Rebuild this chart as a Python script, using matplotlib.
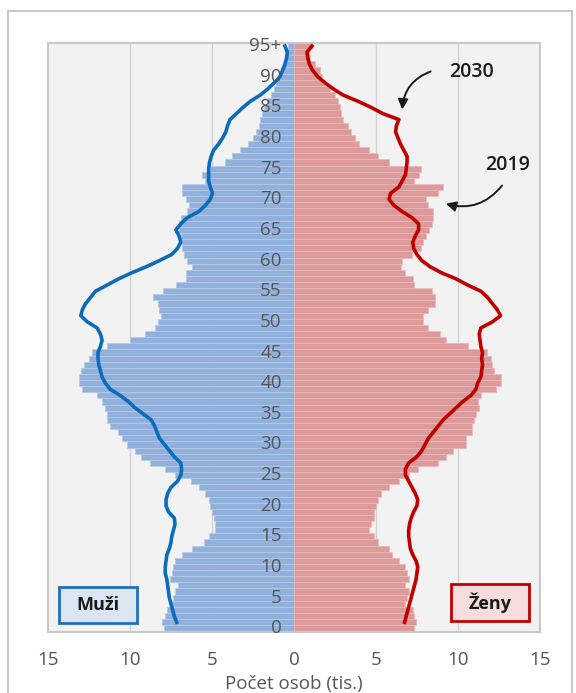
# Věková pyramida 2019 (sloupce) a projekce 2030 (čáry)

import numpy as np
import matplotlib.pyplot as plt
from matplotlib.patches import Rectangle

# data (tis. osob), věk 0 .. 95+
vek = np.arange(0, 96)
muzi_2019 = [7.95, 8.05, 7.85, 7.75, 7.45, 7.35, 7.25, 7.05, 7.55, 7.45,
             7.35, 7.25, 6.8, 6.2, 5.5, 5.2, 4.8, 4.8, 4.9, 5.0,
             5.1, 5.2, 5.4, 5.8, 6.3, 7.25, 7.85, 8.8, 9.3, 9.7,
             10.2, 10.5, 10.7, 11.2, 11.4, 11.4, 11.5, 11.7, 12.0, 12.9,
             13.1, 13.1, 13.0, 12.8, 12.5, 12.3, 11.4, 10.0, 9.1, 8.5,
             8.3, 8.1, 8.2, 8.3, 8.6, 8.0, 7.2, 6.6, 6.6, 6.2,
             6.5, 6.7, 6.8, 6.85, 6.9, 7.0, 7.0, 6.9, 6.5, 6.4,
             6.6, 6.8, 6.8, 5.4, 5.6, 5.1, 4.2, 3.8, 3.3, 2.8,
             2.5, 2.3, 2.1, 2.05, 1.95, 1.8, 1.65, 1.4, 1.2, 1.1,
             0.9, 0.8, 0.65, 0.55, 0.45, 0.38]
zeny_2019 = [7.3, 7.45, 7.35, 7.24, 6.8, 6.9, 7.0, 6.8, 7.0, 6.9,
             6.8, 6.4, 6.0, 5.8, 5.1, 4.9, 4.6, 4.67, 4.9, 4.9,
             5.0, 5.1, 5.3, 5.8, 6.4, 7.0, 7.55, 8.8, 9.3, 9.7,
             10.5, 10.5, 10.85, 10.85, 11.0, 11.1, 11.3, 11.2, 11.4, 12.3,
             12.6, 12.6, 12.2, 12.1, 12.0, 11.8, 10.6, 9.3, 8.9, 8.2,
             7.86, 7.86, 8.2, 8.6, 8.6, 8.4, 7.35, 7.24, 6.8, 6.5,
             6.6, 7.2, 7.75, 7.86, 8.07, 8.25, 8.4, 8.5, 8.5, 8.2,
             8.07, 8.8, 9.1, 7.35, 7.6, 7.75, 5.8, 5.1, 4.6, 3.95,
             3.75, 3.5, 3.3, 3.0, 2.9, 2.8, 2.7, 2.5, 2.2, 1.9,
             1.7, 1.6, 1.3, 1.0, 0.9, 1.1]

vek_2030 = np.arange(1, 96)
muzi_2030 = [7.15, 7.3, 7.4, 7.5, 7.6, 7.65, 7.7, 7.75, 7.85, 7.85,
             7.8, 7.75, 7.6, 7.5, 7.45, 7.35, 7.25, 7.3, 7.65, 7.8,
             7.8, 7.7, 7.5, 7.1, 6.9, 6.85, 6.9, 7.3, 7.6, 7.9,
             8.2, 8.35, 8.5, 8.7, 9.2, 9.7, 10.1, 10.6, 11.2, 11.5,
             11.7, 11.8, 11.9, 11.95, 11.95, 11.8, 11.7, 11.8, 12.0, 12.6,
             13.0, 12.9, 12.7, 12.4, 12.1, 11.4, 10.7, 9.9, 9.0, 8.2,
             7.45, 7.1, 6.9, 7.0, 7.2, 6.9, 6.5, 5.8, 5.4, 5.1,
             4.97, 5.1, 5.2, 5.2, 5.2, 5.15, 5.05, 4.9, 4.6, 4.35,
             4.15, 4.05, 3.9, 3.5, 3.1, 2.65, 2.05, 1.6, 1.2, 0.85,
             0.7, 0.55, 0.45, 0.4, 0.55]
zeny_2030 = [6.75, 6.85, 6.95, 7.05, 7.15, 7.25, 7.35, 7.45, 7.5, 7.55,
             7.45, 7.25, 7.1, 7.05, 7.0, 7.0, 7.05, 7.15, 7.3, 7.5,
             7.55, 7.4, 7.2, 7.0, 6.8, 6.8, 7.0, 7.5, 7.8, 8.0,
             8.2, 8.5, 8.8, 9.1, 9.5, 9.9, 10.3, 10.8, 11.1, 11.2,
             11.4, 11.45, 11.5, 11.45, 11.5, 11.4, 11.35, 11.3, 11.4, 12.1,
             12.6, 12.4, 12.1, 11.8, 11.4, 10.6, 9.9, 9.0, 8.3, 7.8,
             7.5, 7.3, 7.25, 7.4, 7.6, 7.6, 7.2, 6.6, 6.1, 5.8,
             5.9, 6.4, 6.6, 6.8, 6.85, 6.9, 6.9, 6.7, 6.5, 6.35,
             6.2, 6.25, 6.4, 5.4, 4.7, 3.9, 3.0, 2.4, 1.9, 1.45,
             1.15, 0.95, 0.85, 0.8, 1.1]

popisky_veku = [str(v) for v in range(0, 95, 5)] + ['95+']
x_ticky = [-15, -10, -5, 0, 5, 10, 15]

plt.rcParams['font.family'] = ['Open Sans', 'DejaVu Sans']

fig = plt.figure(figsize=(5.76, 6.93), dpi=100)
ax = fig.add_axes([0.0833, 0.088, 0.854, 0.85])
ax.set_facecolor('#f2f2f2')

# rámeček okolo celého grafu
fig.patches.append(Rectangle((8 / 576, -0.01), 564 / 576, 1 - 11 / 693 + 0.01,
                             transform=fig.transFigure, fill=False,
                             edgecolor='#c8c8c8', linewidth=1.5))

for g in [-10, -5, 5, 10]:
    ax.axvline(g, color='#d2d2d2', linewidth=1, zorder=0)

ax.barh(vek, -np.array(muzi_2019), height=1, color='#91b1dc',
        edgecolor='#b6cbe8', linewidth=0.5, zorder=1)
ax.barh(vek, zeny_2019, height=1, color='#dc9a9a',
        edgecolor='#e9b9b9', linewidth=0.5, zorder=1)

ax.plot(-np.array(muzi_2030), vek_2030, color='#0b6bbd', linewidth=2.6, zorder=3)
ax.plot(zeny_2030, vek_2030, color='#c00000', linewidth=2.6, zorder=3)

for v, t in zip(list(range(0, 96, 5)), popisky_veku):
    ax.text(-0.75, v, t, ha='right', va='center', fontsize=13.5, color='#555555', zorder=4)

ax.set_xlim(-15, 15)
ax.set_ylim(-0.6, 95.5)
ax.set_xticks(x_ticky)
ax.set_xticklabels([str(abs(t)) for t in x_ticky], fontsize=13.5, color='#555555')
ax.set_yticks([])
ax.tick_params(axis='x', length=0, pad=14)
ax.set_xlabel('Počet osob (tis.)', fontsize=13.5, color='#555555', labelpad=4)
for s in ax.spines.values():
    s.set_color('#c8c8c8')
    s.set_linewidth(1.5)

# legenda jako rámečky (souřadnice osy)
ax.add_patch(Rectangle((0.023, 0.016), 0.158, 0.061, transform=ax.transAxes,
                       facecolor='#dce6f3', edgecolor='#1f6fc0', linewidth=2, zorder=5))
ax.text(0.102, 0.0465, 'Muži', transform=ax.transAxes, ha='center', va='center',
        fontsize=13, fontweight='bold', color='#1a1a1a', zorder=6)
ax.add_patch(Rectangle((0.819, 0.018), 0.159, 0.064, transform=ax.transAxes,
                       facecolor='#f6dcdc', edgecolor='#c00000', linewidth=2, zorder=5))
ax.text(0.8985, 0.05, 'Ženy', transform=ax.transAxes, ha='center', va='center',
        fontsize=13, fontweight='bold', color='#1a1a1a', zorder=6)

# popisky s šipkami
ax.text(10.8, 90.8, '2030', ha='center', va='center', fontsize=14, fontweight='semibold',
        color='#1a1a1a')
ax.annotate('', xy=(6.6, 84.2), xytext=(8.5, 91.0),
            arrowprops=dict(arrowstyle='-|>', color='#1a1a1a', lw=1.4,
                            mutation_scale=15, connectionstyle='arc3,rad=0.35'))
ax.text(13.0, 75.6, '2019', ha='center', va='center', fontsize=14, fontweight='semibold',
        color='#1a1a1a')
ax.annotate('', xy=(9.1, 69.4), xytext=(12.8, 72.6),
            arrowprops=dict(arrowstyle='-|>', color='#1a1a1a', lw=1.4,
                            mutation_scale=15, connectionstyle='arc3,rad=-0.35'))

plt.savefig('out.png', dpi=100)
